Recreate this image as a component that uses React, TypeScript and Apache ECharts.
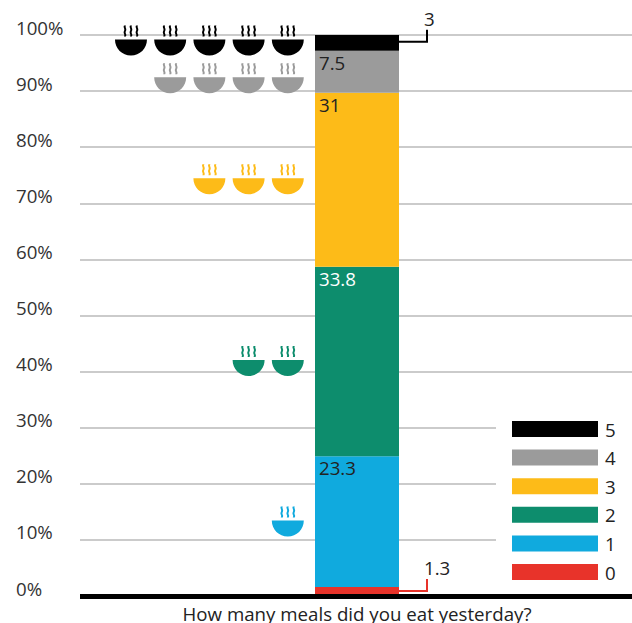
import React, { useEffect, useRef } from "react";
import * as echarts from "echarts";

const categories = ["How many meals did you eat yesterday?"];
const mealCounts = ["0", "1", "2", "3", "4", "5"];
const shares = [1.3, 23.3, 33.8, 31, 7.5, 3];
const colors = ["#e8332a", "#10aade", "#0d8d6d", "#fdbb18", "#9b9b9b", "#000000"];
const insideLabelColors = ["", "#222222", "#ffffff", "#222222", "#222222", ""];
const legendOrder = ["5", "4", "3", "2", "1", "0"];
const bowlCounts = [0, 1, 2, 3, 4, 5];
const bowlLevels = [0, 13.3, 41.9, 74.3, 92.3, 99];
const calloutLevels = [0.9, 0, 0, 0, 0, 98.8];
const calloutTexts = ["1.3", "", "", "", "", "3"];
const slots = [5, 4, 3, 2, 1];
const FONT = '"Open Sans", "Noto Sans", sans-serif';
const FS = 18.7;

const steam = (c: number) =>
  `M${c - 1} 0C${c - 2.2} 2 ${c + 0.2} 3 ${c - 1} 5.5C${c - 2.2} 8 ${c + 0.2} 8.5 ${c - 1} 11` +
  `H${c + 1}C${c + 2.2} 8.5 ${c - 0.2} 8 ${c + 1} 5.5C${c + 2.2} 3 ${c - 0.2} 2 ${c + 1} 0Z`;
const bowlPath =
  "path://" + steam(10) + steam(16) + steam(22) + "M0 14H32C32 23 24.8 30 16 30C7.2 30 0 23 0 14Z";

export default function App() {
  const ref = useRef<HTMLDivElement>(null);
  useEffect(() => {
    const chart = echarts.init(ref.current!, undefined, { renderer: "svg" });
    const barSeries = mealCounts.map((name, i) => ({
      name,
      type: "bar",
      stack: "meals",
      yAxisIndex: 1,
      barWidth: 84,
      data: [shares[i]],
      itemStyle: { color: colors[i] },
      z: 2,
      label: insideLabelColors[i]
        ? {
            show: true,
            position: [4, 2],
            color: insideLabelColors[i],
            fontFamily: FONT,
            fontSize: FS,
          }
        : { show: false },
    }));
    const bowlSeries = mealCounts.map((name, i) => ({
      type: "scatter",
      xAxisIndex: 1,
      symbol: bowlPath,
      symbolSize: [32, 30],
      itemStyle: { color: colors[i], opacity: 1 },
      z: 3,
      silent: true,
      data: slots.slice(0, bowlCounts[i]).map((s) => [s, bowlLevels[i]]),
    }));
    const calloutSeries = {
      type: "custom",
      xAxisIndex: 0,
      z: 3,
      silent: true,
      clip: false,
      data: mealCounts
        .map((_, i) => i)
        .filter((i) => calloutTexts[i])
        .map((i) => ({ value: [0, calloutLevels[i]], idx: i })),
      renderItem: (params: any, api: any) => {
        const idx = [0, 5][params.dataIndex];
        const p = api.coord([0, api.value(1)]);
        const x0 = p[0] + 42;
        const x1 = p[0] + 70;
        const y = p[1];
        return {
          type: "group",
          children: [
            {
              type: "polyline",
              shape: { points: [[x0, y], [x1, y], [x1, y - 12]] },
              style: { stroke: colors[idx], lineWidth: 2, fill: "none" },
            },
            {
              type: "text",
              style: {
                text: calloutTexts[idx],
                x: x1 - 3,
                y: y - 14,
                textAlign: "left",
                textVerticalAlign: "bottom",
                fontFamily: FONT,
                fontSize: FS,
                fill: "#222222",
              },
            },
          ],
        };
      },
    };
    chart.setOption({
      animation: false,
      backgroundColor: "#ffffff",
      grid: { left: 80, width: 554, top: 35, height: 561, containLabel: false, outerBoundsMode: "none" },
      xAxis: [
        {
          type: "category",
          data: categories,
          z: 5,
          axisTick: { show: false },
          axisLine: { lineStyle: { color: "#000000", width: 5, cap: "butt" } },
          axisLabel: { color: "#222222", fontFamily: FONT, fontSize: FS, margin: 8 },
        },
        { type: "value", show: false, min: -0.3, max: 13.83, splitLine: { show: false } },
      ],
      yAxis: [
        {
          type: "value",
          min: 0,
          max: 100,
          interval: 10,
          axisLine: { show: false },
          axisTick: { show: false },
          splitLine: { lineStyle: { color: "#cbcbcb", width: 2 } },
          axisLabel: {
            formatter: "{value}%",
            color: "#333333",
            fontFamily: FONT,
            fontSize: FS,
            align: "left",
            margin: 64,
            verticalAlign: "bottom",
            lineHeight: 12,
            padding: [0, 0, 2, 0],
          },
        },
        { type: "value", show: false, min: -0.3, max: 99.7, splitLine: { show: false } },
      ],
      legend: {
        orient: "vertical",
        left: 512,
        top: 419.5,
        padding: 0,
        data: legendOrder.map((name) => ({ name, icon: "rect" })),
        itemWidth: 86,
        itemHeight: 16,
        itemGap: 9.6,
        selectedMode: false,
        z: 6,
        textStyle: { color: "#222222", fontFamily: FONT, fontSize: FS, padding: [0, 0, 2, 2] },
      },
      graphic: [
        {
          type: "rect",
          z: 1,
          shape: { x: 496, y: 410, width: 136, height: 180 },
          style: { fill: "#ffffff" },
        },
      ],
      series: [...barSeries, ...bowlSeries, calloutSeries],
    });
    return () => chart.dispose();
  }, []);
  return <div ref={ref} style={{ position: "absolute", left: 0, top: 0, width: 632, height: 623 }} />;
}
